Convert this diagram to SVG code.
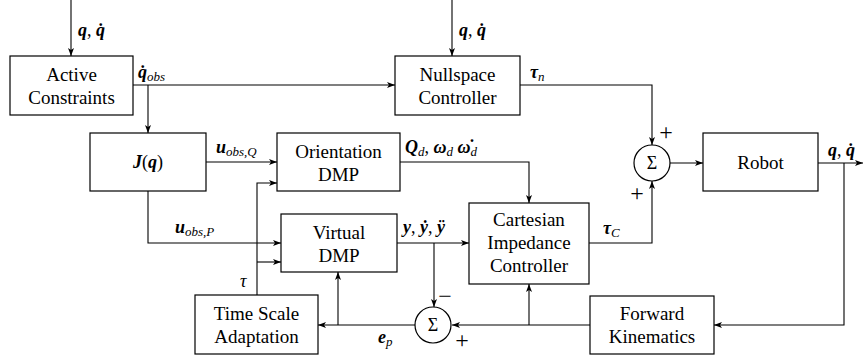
<svg xmlns="http://www.w3.org/2000/svg" width="863" height="360" viewBox="0 0 863 360" font-family="Liberation Serif, serif">
<style>
.box{fill:#fff;stroke:#000;stroke-width:1.2}
.sum{fill:#fff;stroke:#000;stroke-width:1.2}
.c{fill:none;stroke:#000;stroke-width:1.1}
.t{font-size:19px;fill:#000;text-anchor:middle}
.m{font-size:18px;fill:#000;font-weight:bold;font-style:italic}
.s{font-weight:normal;font-style:italic;font-size:13px}
.r{font-weight:normal;font-style:normal}
.it{font-size:18px;fill:#000;font-style:italic;font-weight:normal}
.sg{font-size:18px;fill:#000;text-anchor:middle}
.pm{font-size:24px;fill:#000;text-anchor:middle}
</style>
<defs>
<marker id="a" viewBox="0 0 8 6" refX="8" refY="3" markerWidth="8" markerHeight="6" markerUnits="userSpaceOnUse" orient="auto">
<path d="M0,0 L8,3 L0,6 L2,3 z" fill="#000"/>
</marker>
</defs>
<g id="connectors">
<path class="c" d="M71,0 V56" marker-end="url(#a)"/>
<path class="c" d="M452,0 V56" marker-end="url(#a)"/>
<path class="c" d="M133,85 H395" marker-end="url(#a)"/>
<path class="c" d="M148,85 V133" marker-end="url(#a)"/>
<path class="c" d="M520,85 H652 V145" marker-end="url(#a)"/>
<path class="c" d="M670,163 H703" marker-end="url(#a)"/>
<path class="c" d="M818,163 H863" marker-end="url(#a)"/>
<path class="c" d="M844,163 V325 H714" marker-end="url(#a)"/>
<path class="c" d="M206,162 H277" marker-end="url(#a)"/>
<path class="c" d="M148,191 V243 H281" marker-end="url(#a)"/>
<path class="c" d="M400,162 H529 V203" marker-end="url(#a)"/>
<path class="c" d="M397,243 H469" marker-end="url(#a)"/>
<path class="c" d="M434,243 V307" marker-end="url(#a)"/>
<path class="c" d="M589,243 H652 V181" marker-end="url(#a)"/>
<path class="c" d="M590,325 H452" marker-end="url(#a)"/>
<path class="c" d="M529,325 V284" marker-end="url(#a)"/>
<path class="c" d="M415,325 H318" marker-end="url(#a)"/>
<path class="c" d="M338,325 V272" marker-end="url(#a)"/>
<path class="c" d="M257,295 V183 H277" marker-end="url(#a)"/>
<path class="c" d="M257,262 H281" marker-end="url(#a)"/>
</g>
<g id="active-constraints">
<rect class="box" x="10" y="56" width="123" height="59"/>
<text class="t" x="71.5" y="81">Active</text>
<text class="t" x="71.5" y="104">Constraints</text>
</g>
<g id="nullspace-controller">
<rect class="box" x="395" y="56" width="125" height="59"/>
<text class="t" x="457.5" y="81">Nullspace</text>
<text class="t" x="457.5" y="104">Controller</text>
</g>
<g id="jacobian">
<rect class="box" x="90" y="133" width="116" height="58"/>
<text class="m" x="148" y="168" text-anchor="middle" font-size="20">J<tspan class="r">(</tspan>q<tspan class="r">)</tspan></text>
</g>
<g id="orientation-dmp">
<rect class="box" x="277" y="133" width="123" height="58"/>
<text class="t" x="338.5" y="158">Orientation</text>
<text class="t" x="338.5" y="181">DMP</text>
</g>
<g id="virtual-dmp">
<rect class="box" x="281" y="214" width="116" height="58"/>
<text class="t" x="339" y="239">Virtual</text>
<text class="t" x="339" y="262">DMP</text>
</g>
<g id="cartesian-impedance-controller">
<rect class="box" x="469" y="203" width="120" height="81"/>
<text class="t" x="529" y="226">Cartesian</text>
<text class="t" x="529" y="249">Impedance</text>
<text class="t" x="529" y="272">Controller</text>
</g>
<g id="sum1">
<circle class="sum" cx="652" cy="163" r="18"/>
<text class="sg" x="652" y="169">Σ</text>
</g>
<g id="robot">
<rect class="box" x="703" y="133" width="115" height="58"/>
<text class="t" x="760.5" y="169">Robot</text>
</g>
<g id="sum2">
<circle class="sum" cx="433" cy="325" r="18"/>
<text class="sg" x="433" y="331">Σ</text>
</g>
<g id="time-scale-adaptation">
<rect class="box" x="195" y="295" width="123" height="59"/>
<text class="t" x="256.5" y="320">Time Scale</text>
<text class="t" x="256.5" y="343">Adaptation</text>
</g>
<g id="forward-kinematics">
<rect class="box" x="590" y="296" width="124" height="58"/>
<text class="t" x="652" y="320">Forward</text>
<text class="t" x="652" y="343">Kinematics</text>
</g>
<g id="labels">
<text class="m" x="78" y="36">q<tspan class="r">, </tspan>q̇</text>
<text class="m" x="459" y="36">q<tspan class="r">, </tspan>q̇</text>
<text class="m" x="828" y="156">q<tspan class="r">, </tspan>q̇</text>
<text class="m" x="138" y="78">q̇<tspan class="s" dy="3">obs</tspan></text>
<text class="m" x="530" y="78">τ<tspan class="s" dy="3">n</tspan></text>
<text class="m" x="216" y="153">u<tspan class="s" dy="3">obs,Q</tspan></text>
<text class="m" x="175" y="233">u<tspan class="s" dy="3">obs,P</tspan></text>
<text class="m" x="405" y="153">Q<tspan class="s" dy="3">d</tspan><tspan class="r" dy="-3">, </tspan>ω<tspan class="s" dy="3">d</tspan><tspan dy="-3"> ω̇</tspan><tspan class="s" dy="3">d</tspan></text>
<text class="m" x="403" y="233">y<tspan class="r">, </tspan>ẏ<tspan class="r">, </tspan>ÿ</text>
<text class="m" x="603" y="234">τ<tspan class="s" dy="3">C</tspan></text>
<text class="it" x="240" y="287">τ</text>
<text class="m" x="378" y="343">e<tspan class="s" dy="3">p</tspan></text>
<text class="pm" x="445" y="304">−</text>
<text class="pm" x="462" y="348">+</text>
<text class="pm" x="666" y="140">+</text>
<text class="pm" x="637" y="201">+</text>
</g>
</svg>
